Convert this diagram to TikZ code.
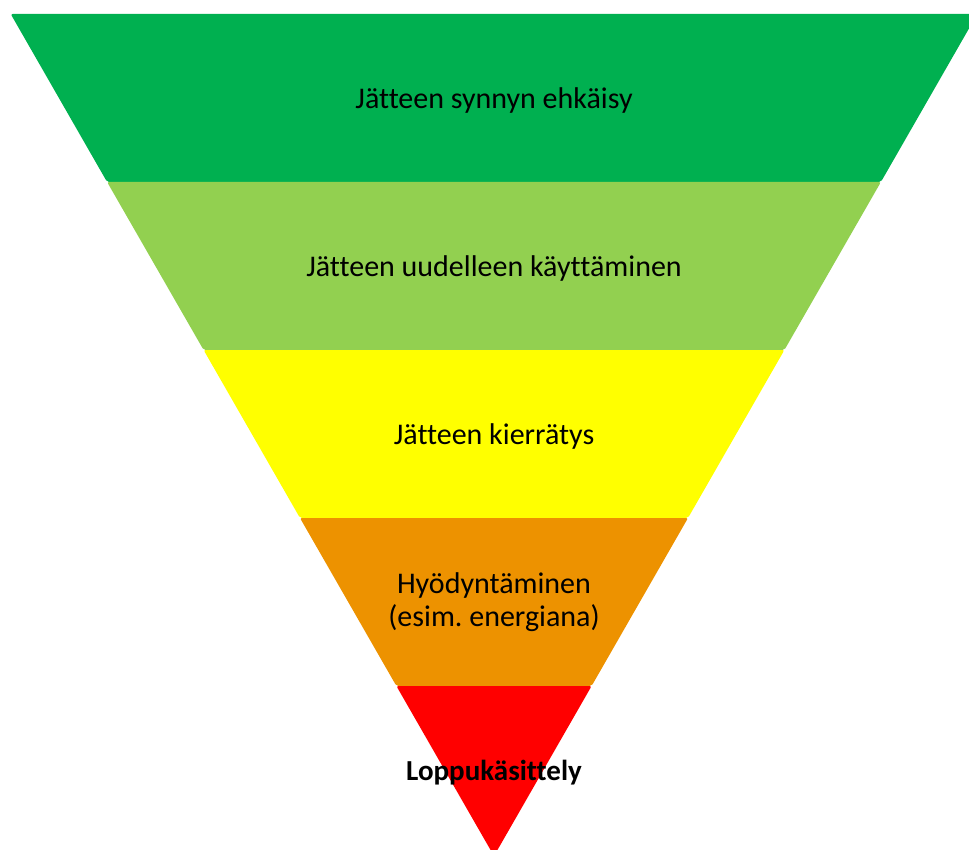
\documentclass[tikz,border=0pt]{standalone}
\usepackage{fontspec}
\setmainfont{Carlito}[Ligatures=NoCommon]
\frenchspacing
\definecolor{bandA}{RGB}{0,176,80}
\definecolor{bandB}{RGB}{146,208,80}
\definecolor{bandC}{RGB}{255,255,0}
\definecolor{bandD}{RGB}{237,146,0}
\definecolor{bandE}{RGB}{255,0,0}
\tikzset{
  band/.style={rounded corners=2pt},
  lbl/.style={font=\fontsize{30}{33}\selectfont, align=center, text=black, inner sep=0pt}
}
\begin{document}
\begin{tikzpicture}[x=1pt,y=-1pt]
\useasboundingbox (0,0) rectangle (969,850);
\clip (0,0) rectangle (969,850);
\fill[band,bandA] (10.7,14) -- (977.3,14) -- (880.9,182) -- (107.1,182) -- cycle;
\fill[band,bandB] (107.1,182) -- (880.9,182) -- (784.4,350) -- (203.6,350) -- cycle;
\fill[band,bandC] (203.6,350) -- (784.4,350) -- (688,518) -- (300,518) -- cycle;
\fill[band,bandD] (300,518) -- (688,518) -- (591.6,686) -- (396.4,686) -- cycle;
\fill[band,bandE] (396.4,686) -- (591.6,686) -- (494,856) -- cycle;
\node[lbl] (t1) at (494,101) {Jätteen synnyn ehkäisy};
\node[lbl] (t2) at (494,269) {Jätteen uudelleen käyttäminen};
\node[lbl] (t3) at (494,437) {Jätteen kierrätys};
\node[lbl] (t4) at (494,602) {Hyödyntäminen\\(esim. energiana)};
\node[lbl,font=\fontsize{29}{33}\selectfont\bfseries] (t5) at (494,773) {Loppukäsittely};
\end{tikzpicture}
\end{document}
